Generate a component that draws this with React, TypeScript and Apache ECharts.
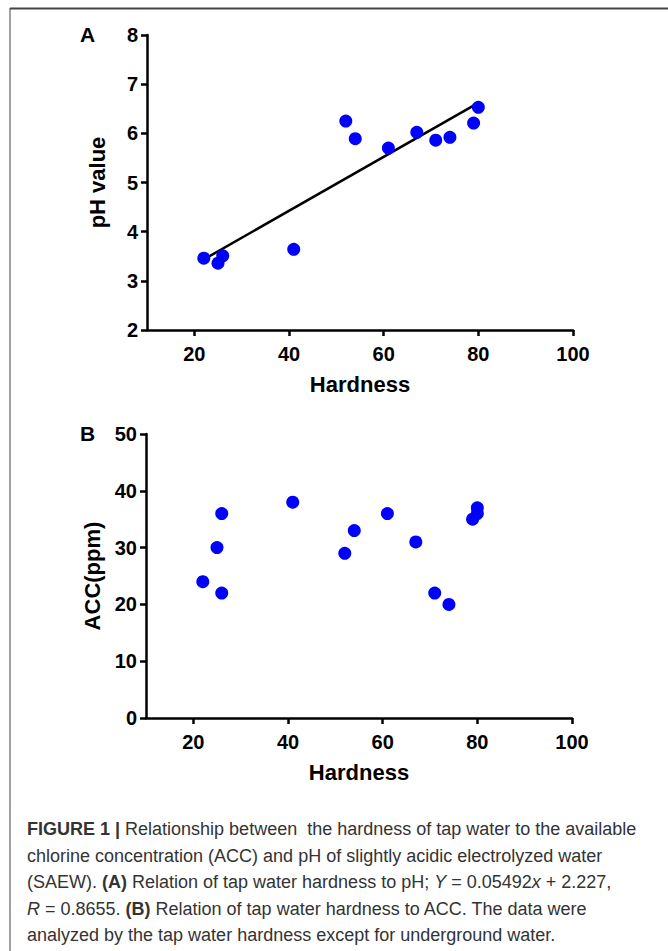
import React, { useEffect, useRef } from "react";
import * as echarts from "echarts";

// Panel A: hardness vs pH
const hardnessA = [22, 25, 26, 41, 52, 54, 61, 67, 71, 74, 79, 80];
const phValues = [3.46, 3.36, 3.51, 3.64, 6.25, 5.89, 5.7, 6.02, 5.86, 5.92, 6.21, 6.53];
// Regression line endpoints (Y = 0.05492x + 2.227)
const fitX = [22, 80];
const fitY = [3.435, 6.621];
// Panel B: hardness vs ACC
const hardnessB = [22, 25, 26, 26, 41, 52, 54, 61, 67, 71, 74, 79, 80, 80];
const accValues = [24, 30, 36, 22, 38, 29, 33, 36, 31, 22, 20, 35, 36, 37];
// Tick values
const xTicks = [20, 40, 60, 80, 100];
const yTicksA = [2, 3, 4, 5, 6, 7, 8];
const yTicksB = [0, 10, 20, 30, 40, 50];

const FONT = "Liberation Sans, Arial, sans-serif";
const AX = 2.5;

function xAxisCfg(gridIndex: number) {
  return {
    type: "value" as const,
    gridIndex,
    min: 10,
    max: 100,
    name: "Hardness",
    nameLocation: "middle" as const,
    nameGap: 43,
    nameTextStyle: { fontSize: 22, fontWeight: "bold", color: "#000", fontFamily: FONT },
    axisLine: { show: true, onZero: false, lineStyle: { color: "#000", width: AX } },
    axisTick: { show: true, customValues: xTicks, length: 6, lineStyle: { color: "#000", width: AX } },
    axisLabel: { customValues: xTicks, fontSize: 20, fontWeight: "bold", color: "#000", fontFamily: FONT, margin: 14 },
    splitLine: { show: false },
  };
}

function yAxisCfg(gridIndex: number, ticks: number[], name: string, interval: number) {
  return {
    type: "value" as const,
    gridIndex,
    min: ticks[0],
    max: ticks[ticks.length - 1],
    interval,
    name,
    nameLocation: "middle" as const,
    nameGap: 39,
    nameTextStyle: { fontSize: 22, fontWeight: "bold", color: "#000", fontFamily: FONT },
    axisLine: { show: true, onZero: false, lineStyle: { color: "#000", width: AX } },
    axisTick: { show: true, length: 6, lineStyle: { color: "#000", width: AX } },
    axisLabel: { fontSize: 20, fontWeight: "bold", color: "#000", fontFamily: FONT, margin: 9 },
    splitLine: { show: false },
  };
}

const captionLines = [
  "{b|FIGURE 1 |} Relationship between  the hardness of tap water to the available",
  "chlorine concentration (ACC) and pH of slightly acidic electrolyzed water",
  "(SAEW). {b|(A)} Relation of tap water hardness to pH; {i|Y} = 0.05492{i|x} + 2.227,",
  "{i|R} = 0.8655. {b|(B)} Relation of tap water hardness to ACC. The data were",
  "analyzed by the tap water hardness except for underground water.",
];

export default function App() {
  const ref = useRef<HTMLDivElement>(null);
  useEffect(() => {
    if (!ref.current) return;
    const chart = echarts.init(ref.current, undefined, { renderer: "svg" });
    const capColor = "#333";
    const capSize = 18;
    chart.setOption({
      animation: false,
      backgroundColor: "#fff",
      grid: [
        { left: 147, top: 35, width: 426, height: 295 },
        { left: 146, top: 434, width: 426, height: 284 },
      ],
      xAxis: [xAxisCfg(0), xAxisCfg(1)],
      yAxis: [yAxisCfg(0, yTicksA, "pH value", 1), yAxisCfg(1, yTicksB, "ACC(ppm)", 10)],
      series: [
        {
          type: "line",
          xAxisIndex: 0,
          yAxisIndex: 0,
          data: fitX.map((x, i) => [x, fitY[i]]),
          showSymbol: false,
          symbol: "none",
          lineStyle: { color: "#000", width: 2.5 },
          z: 2,
        },
        {
          type: "scatter",
          xAxisIndex: 0,
          yAxisIndex: 0,
          data: hardnessA.map((x, i) => [x, phValues[i]]),
          symbolSize: 13,
          itemStyle: { color: "#0000ff", opacity: 1 },
          z: 3,
        },
        {
          type: "scatter",
          xAxisIndex: 1,
          yAxisIndex: 1,
          data: hardnessB.map((x, i) => [x, accValues[i]]),
          symbolSize: 13,
          itemStyle: { color: "#0000ff", opacity: 1 },
          z: 3,
        },
      ],
      graphic: [
        { type: "line", shape: { x1: 10, y1: 8.5, x2: 668, y2: 8.5 }, style: { stroke: "#444", lineWidth: 2 } },
        { type: "line", shape: { x1: 10, y1: 8, x2: 10, y2: 951 }, style: { stroke: "#444", lineWidth: 1 } },
        { type: "text", left: 80, top: 24, style: { text: "A", fontSize: 21, fontWeight: "bold", fill: "#000", fontFamily: FONT } },
        { type: "text", left: 80, top: 423, style: { text: "B", fontSize: 21, fontWeight: "bold", fill: "#000", fontFamily: FONT } },
        ...captionLines.map((t, i) => ({
          type: "text",
          left: 27,
          top: 820 + i * 26.6,
          style: {
            text: t,
            fontSize: capSize,
            fill: capColor,
            fontFamily: FONT,
            rich: {
              b: { fontSize: capSize, fontWeight: "bold", fill: capColor, fontFamily: FONT },
              i: { fontSize: capSize, fontStyle: "italic", fill: capColor, fontFamily: FONT },
            },
          },
        })),
      ],
    });
    return () => chart.dispose();
  }, []);
  return (
    <div
      ref={ref}
      style={{ position: "absolute", left: 0, top: 0, width: 668, height: 951, background: "#fff" }}
    />
  );
}
